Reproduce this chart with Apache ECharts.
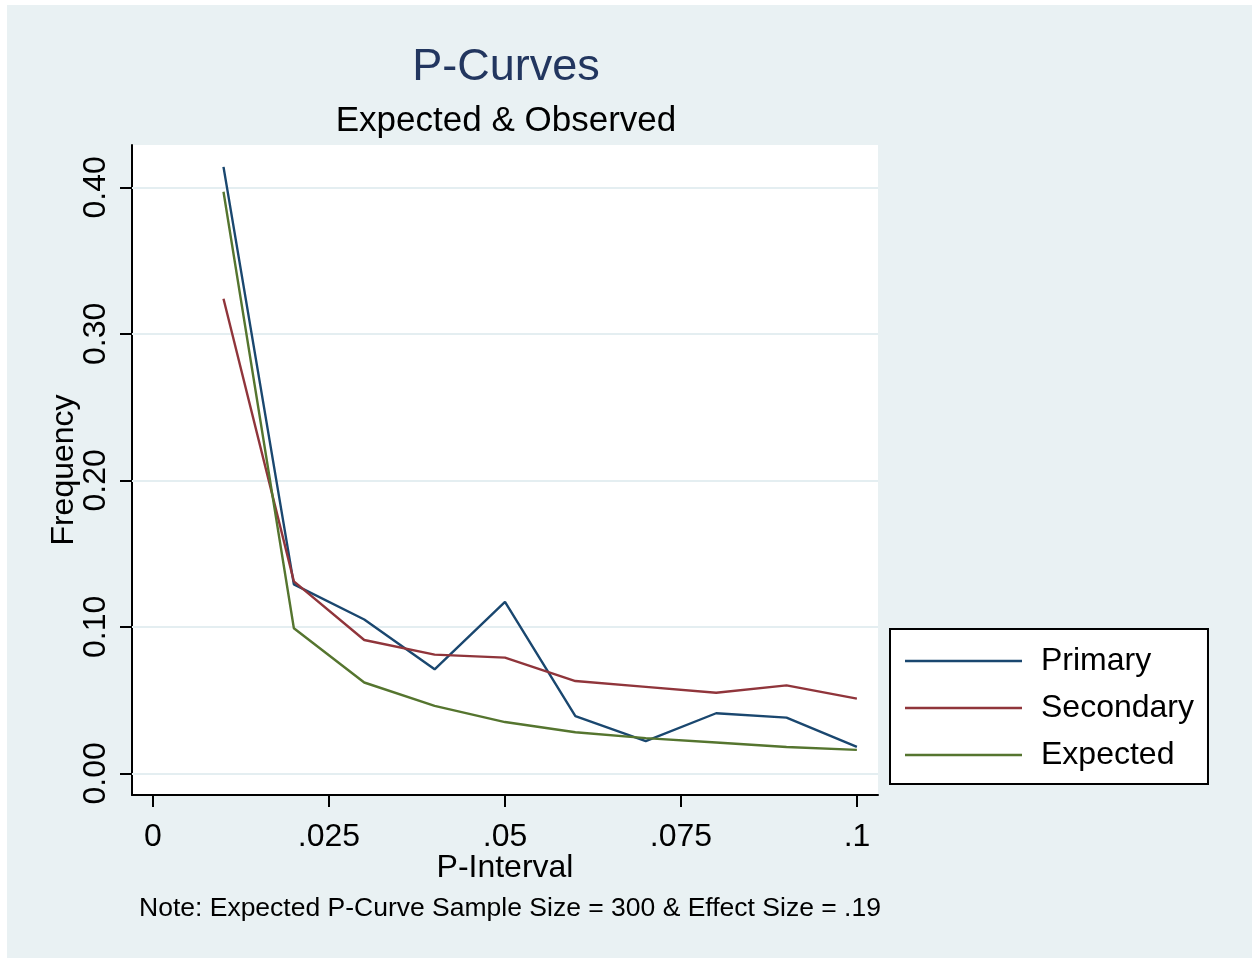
<!DOCTYPE html>
<html>
<head>
<meta charset="utf-8">
<script src="https://cdn.jsdelivr.net/npm/echarts@6/dist/echarts.min.js"></script>
<style>
html,body{margin:0;padding:0;background:#ffffff;}
#chart{width:1252px;height:958px;}
</style>
</head>
<body>
<div id="chart"></div>
<script>
const pInterval = [0.01, 0.02, 0.03, 0.04, 0.05, 0.06, 0.07, 0.08, 0.09, 0.10];
const primary   = [0.414, 0.129, 0.105, 0.071, 0.117, 0.039, 0.022, 0.041, 0.038, 0.018];
const secondary = [0.324, 0.131, 0.091, 0.081, 0.079, 0.063, 0.059, 0.055, 0.060, 0.051];
const expected  = [0.397, 0.099, 0.062, 0.046, 0.035, 0.028, 0.024, 0.021, 0.018, 0.016];
const xTickValues = [0, 0.025, 0.05, 0.075, 0.1];
const xTickLabels = ['0', '.025', '.05', '.075', '.1'];
const yTickValues = [0, 0.1, 0.2, 0.3, 0.4];
const yTickLabels = ['0.00', '0.10', '0.20', '0.30', '0.40'];

const FONT = 'Liberation Sans, Arial, sans-serif';
const BG = '#e9f1f3';
const GRIDLINE = '#e4eef1';
const colors = { Primary: '#1a476f', Secondary: '#90353b', Expected: '#55752f' };

function labelFor(values, labels, v) {
  for (let i = 0; i < values.length; i++) {
    if (Math.abs(values[i] - v) < 1e-9) return labels[i];
  }
  return '';
}

const chart = echarts.init(document.getElementById('chart'), null, { renderer: 'canvas' });

const mk = (arr) => pInterval.map((x, i) => [x, arr[i]]);
const lineSeries = (name, arr) => ({
  name, type: 'line', xAxisIndex: 0, yAxisIndex: 0, data: mk(arr), z: 3,
  symbol: 'none', lineStyle: { color: colors[name], width: 2.4 }, itemStyle: { color: colors[name] }
});

const option = {
  backgroundColor: '#ffffff',
  animation: false,
  graphic: [
    { type: 'rect', z: -10, shape: { x: 7, y: 5, width: 1252, height: 958 }, style: { fill: BG } }
  ],
  title: [
    { text: 'P-Curves', left: 506, top: 45, textAlign: 'center', padding: 0,
      textStyle: { fontFamily: FONT, fontSize: 45, fontWeight: 'normal', color: '#22365f' } },
    { text: 'Expected & Observed', left: 506, top: 104, textAlign: 'center', padding: 0,
      textStyle: { fontFamily: FONT, fontSize: 35, fontWeight: 'normal', color: '#000' } },
    { text: 'Note: Expected P-Curve Sample Size = 300 & Effect Size = .19', left: 139, top: 895, padding: 0,
      textStyle: { fontFamily: FONT, fontSize: 26.5, fontWeight: 'normal', color: '#000' } }
  ],
  legend: {
    orient: 'vertical',
    left: 890, top: 629,
    padding: [14, 14, 11, 15],
    backgroundColor: '#ffffff',
    borderColor: '#000', borderWidth: 2,
    itemWidth: 117, itemHeight: 2.5, itemGap: 11,
    icon: 'rect',
    textStyle: { fontFamily: FONT, fontSize: 32, color: '#000', lineHeight: 36, padding: [0, 0, 0, 14] },
    data: ['Primary', 'Secondary', 'Expected']
  },
  grid: [
    { left: 132, right: 374, top: 145, bottom: 163, show: true, backgroundColor: '#ffffff', borderWidth: 0 },
    { left: 153, right: 395, top: 187.3, bottom: 184.7, show: false }
  ],
  xAxis: [
    { gridIndex: 0, type: 'value', min: -0.003, max: 0.103,
      name: 'P-Interval', nameLocation: 'middle', nameGap: 57,
      nameTextStyle: { fontFamily: FONT, fontSize: 32, color: '#000' },
      axisLine: { show: true, onZero: false, lineStyle: { color: '#000', width: 2 } },
      axisTick: { show: false }, axisLabel: { show: false }, splitLine: { show: false } },
    { gridIndex: 1, type: 'value', min: 0, max: 0.1, interval: 0.025, offset: 21.7,
      axisLine: { show: false, onZero: false },
      axisTick: { show: true, length: 12, lineStyle: { color: '#000', width: 2 } },
      axisLabel: { show: true, margin: 26, fontFamily: FONT, fontSize: 32, color: '#000',
        formatter: (v) => labelFor(xTickValues, xTickLabels, v) },
      splitLine: { show: false } }
  ],
  yAxis: [
    { gridIndex: 0, type: 'value', min: -0.0148, max: 0.4289,
      name: 'Frequency', nameLocation: 'middle', nameGap: 52,
      nameTextStyle: { fontFamily: FONT, fontSize: 32, color: '#000' },
      axisLine: { show: true, onZero: false, lineStyle: { color: '#000', width: 2 } },
      axisTick: { show: false }, axisLabel: { show: false }, splitLine: { show: false } },
    { gridIndex: 1, type: 'value', min: 0, max: 0.4, interval: 0.1, offset: 21,
      axisLine: { show: false, onZero: false },
      axisTick: { show: true, length: 12, lineStyle: { color: '#000', width: 2 } },
      axisLabel: { show: true, rotate: 90, margin: 20, fontFamily: FONT, fontSize: 32, color: '#000',
        formatter: (v) => labelFor(yTickValues, yTickLabels, v) },
      splitLine: { show: false } }
  ],
  series: [
    { name: 'gridlines', type: 'line', xAxisIndex: 0, yAxisIndex: 0, data: [], z: 1, silent: true,
      markLine: { silent: true, z: 1, symbol: 'none', label: { show: false }, animation: false,
        lineStyle: { color: GRIDLINE, width: 2, type: 'solid' },
        emphasis: { disabled: true },
        data: yTickValues.map(v => ({ yAxis: v })) } },
    lineSeries('Primary', primary),
    lineSeries('Secondary', secondary),
    lineSeries('Expected', expected)
  ]
};
chart.setOption(option);
</script>
</body>
</html>
